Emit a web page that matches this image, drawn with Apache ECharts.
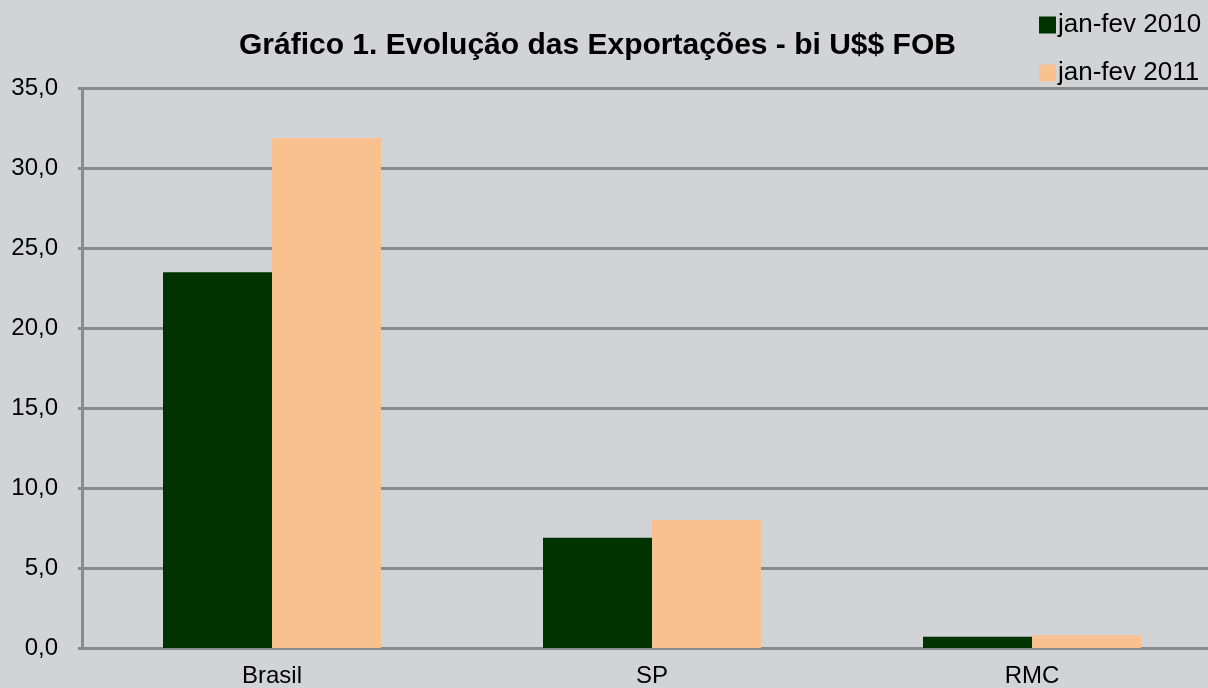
<!DOCTYPE html>
<html>
<head>
<meta charset="utf-8">
<script src="https://cdn.jsdelivr.net/npm/echarts@6/dist/echarts.min.js"></script>
<style>
html,body{margin:0;padding:0;background:#d2d3d5;}
#c{width:1208px;height:688px;}
</style>
</head>
<body>
<div id="c"></div>
<script>
const categories = ['Brasil', 'SP', 'RMC'];
const seriesNames = ['jan-fev 2010', 'jan-fev 2011'];
const values2010 = [23.5, 6.9, 0.7];
const values2011 = [31.9, 8.0, 0.8];
const yTicks = [0, 5, 10, 15, 20, 25, 30, 35];

const FONT = '"Liberation Sans", Arial, sans-serif';
const GRAY = '#8a8a8a';

const chart = echarts.init(document.getElementById('c'), null, {renderer: 'canvas'});
chart.setOption({
  backgroundColor: '#d2d3d5',
  animation: false,
  title: {
    text: 'Gráfico 1. Evolução das Exportações - bi U$$ FOB',
    left: 239,
    top: 31,
    padding: 0,
    textStyle: {fontFamily: FONT, fontSize: 30, fontWeight: 'bold', color: '#000'}
  },
  legend: {
    orient: 'vertical',
    left: 1039,
    top: 12,
    padding: 0,
    itemWidth: 17,
    itemHeight: 17,
    itemGap: 22,
    icon: 'rect',
    data: seriesNames,
    itemStyle: {borderWidth: 0},
    textStyle: {fontFamily: FONT, fontSize: 26, color: '#000', lineHeight: 26, padding: [0, 0, 0, -3]}
  },
  grid: {left: 82, width: 1140, top: 88.5, bottom: 40, containLabel: false, outerBoundsMode: 'none'},
  xAxis: {
    type: 'category',
    data: categories,
    axisLine: {lineStyle: {color: GRAY, width: 3}},
    axisTick: {show: false},
    axisLabel: {fontFamily: FONT, fontSize: 24, color: '#000', margin: 16},
    splitLine: {show: false}
  },
  yAxis: {
    type: 'value',
    min: yTicks[0],
    max: yTicks[yTicks.length - 1],
    interval: 5,
    axisLine: {show: true, lineStyle: {color: GRAY, width: 3}},
    axisTick: {show: true, length: 4, lineStyle: {color: GRAY, width: 3}},
    axisLabel: {
      fontFamily: FONT, fontSize: 24, color: '#000', margin: 24,
      formatter: v => v.toFixed(1).replace('.', ',')
    },
    splitLine: {show: true, lineStyle: {color: GRAY, width: 3}}
  },
  series: [
    {
      name: seriesNames[0], type: 'bar', data: values2010,
      barWidth: 109, barGap: '0%',
      itemStyle: {color: '#003300'}
    },
    {
      name: seriesNames[1], type: 'bar', data: values2011,
      barWidth: 109, barGap: '0%',
      itemStyle: {color: '#f9c090'}
    }
  ]
});
</script>
</body>
</html>
